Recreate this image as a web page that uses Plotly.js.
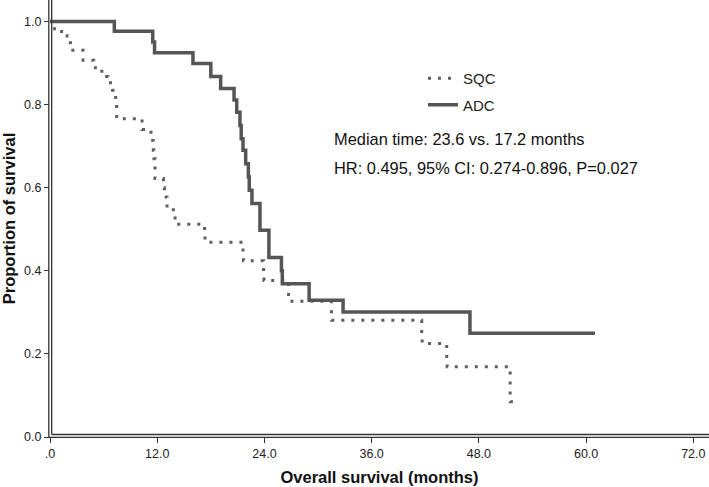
<!DOCTYPE html>
<html>
<head>
<meta charset="utf-8">
<script src="https://cdn.plot.ly/plotly-3.0.1.min.js"></script>
<style>html,body{margin:0;padding:0;background:#fff;}#chart{width:709px;height:487px;}</style>
</head>
<body>
<div id="chart"></div>
<script>
// ---- data ----
const sqcMonths = [0, 0.3, 1.3, 1.9, 2.3, 3.7, 4.9, 5.8, 6.5, 7.0, 7.35, 7.46, 10.3, 11.3, 11.56, 11.64, 11.75, 12.7, 12.8, 13.1, 13.8, 14.0, 17.3, 17.35, 21.6, 21.65, 23.9, 23.95, 26.7, 31.5, 41.6, 41.65, 44.4, 44.45, 51.5, 52.3];
const sqcSurv   = [1.0, 0.983, 0.966, 0.949, 0.931, 0.907, 0.889, 0.868, 0.853, 0.835, 0.800, 0.766, 0.740, 0.714, 0.690, 0.670, 0.622, 0.600, 0.578, 0.556, 0.534, 0.512, 0.490, 0.469, 0.433, 0.424, 0.385, 0.377, 0.327, 0.281, 0.250, 0.225, 0.190, 0.169, 0.085, 0.085];

const adcMonths = [0, 7.2, 11.5, 11.7, 16.0, 18.0, 19.1, 20.6, 20.9, 21.26, 21.4, 21.6, 21.9, 22.2, 22.3, 22.6, 23.5, 24.5, 25.9, 26.0, 29.0, 32.8, 47.0, 61.0];
const adcSurv   = [1.0, 0.977, 0.951, 0.925, 0.899, 0.868, 0.839, 0.811, 0.782, 0.750, 0.718, 0.690, 0.658, 0.626, 0.594, 0.562, 0.498, 0.432, 0.400, 0.369, 0.329, 0.301, 0.250, 0.250];

const seriesNames = ["SQC", "ADC"];
const xTickVals = [0, 12, 24, 36, 48, 60, 72];
const xTickText = [".0", "12.0", "24.0", "36.0", "48.0", "60.0", "72.0"];
const yTickVals = [0, 0.2, 0.4, 0.6, 0.8, 1.0];
const yTickText = ["0.0", "0.2", "0.4", "0.6", "0.8", "1.0"];
const noteLines = ["Median time: 23.6 vs. 17.2 months", "HR: 0.495, 95% CI: 0.274-0.896, P=0.027"];
const xTitle = "Overall survival (months)";
const yTitle = "Proportion of survival";

// ---- chart ----
const FONT = "Liberation Sans, Arial, Helvetica, sans-serif";
const W = 709, H = 487, L = 50, R = 0, T = 0, B = 50;
const plotW = W - L - R, plotH = H - T - B;
const axisCol = "#333333";

const traces = [
  {
    x: sqcMonths, y: sqcSurv, name: seriesNames[0], legendgroup: "g1", type: "scatter", mode: "lines",
    line: {shape: "hv", color: "#5e5e5e", width: 3, dash: "3px,7px"}
  },
  {
    x: adcMonths, y: adcSurv, name: seriesNames[1], legendgroup: "g2", type: "scatter", mode: "lines",
    line: {shape: "hv", color: "#555555", width: 3.5}
  }
];

const px = v => v / plotW, py = v => v / plotH;

const layout = {
  width: W, height: H,
  margin: {l: L, r: R, t: T, b: B, pad: 0},
  paper_bgcolor: "#ffffff", plot_bgcolor: "#ffffff",
  font: {family: FONT, size: 12, color: "#222"},
  showlegend: true,
  legend: {
    x: (423 - L) / plotW, y: (plotH - 62) / plotH, xanchor: "left", yanchor: "top",
    bgcolor: "rgba(0,0,0,0)", font: {family: FONT, size: 15, color: "#222"},
    itemwidth: 30, traceorder: "grouped", tracegroupgap: 4
  },
  xaxis: {
    range: [0, plotW / 8.935], showgrid: false, zeroline: false, showline: false,
    ticks: "outside", ticklen: 5, tickwidth: 1, tickcolor: axisCol,
    tickvals: xTickVals, ticktext: xTickText,
    tickfont: {family: FONT, size: 12.5, color: "#222"},
    title: {text: xTitle, font: {family: FONT, size: 16.5, color: "#111", weight: "bold"}, standoff: 11}
  },
  yaxis: {
    range: [0, plotH / 415.4], showgrid: false, zeroline: false, showline: false,
    ticks: "outside", ticklen: 5, tickwidth: 1, tickcolor: axisCol,
    tickvals: yTickVals, ticktext: yTickText,
    tickfont: {family: FONT, size: 12.5, color: "#222"},
    title: {text: yTitle, font: {family: FONT, size: 16.5, color: "#111", weight: "bold"}, standoff: 5}
  },
  shapes: [
    // double axis lines (decoration)
    {type: "line", xref: "paper", yref: "paper", x0: px(-1.2), x1: px(-1.2), y0: py(-0.5), y1: 1, line: {color: axisCol, width: 1.3}},
    {type: "line", xref: "paper", yref: "paper", x0: px(1.7), x1: px(1.7), y0: py(2.5), y1: 1, line: {color: axisCol, width: 1.3}},
    {type: "line", xref: "paper", yref: "paper", x0: px(-1.2), x1: 1, y0: py(-0.4), y1: py(-0.4), line: {color: axisCol, width: 1.3}},
    {type: "line", xref: "paper", yref: "paper", x0: px(1.7), x1: 1, y0: py(2.5), y1: py(2.5), line: {color: axisCol, width: 1.3}}
  ],
  annotations: [
    {xref: "paper", yref: "paper", x: (332 - L) / plotW, y: (plotH - 139) / plotH, xanchor: "left", yanchor: "middle",
     text: noteLines[0], showarrow: false, font: {family: FONT, size: 16.4, color: "#111"}},
    {xref: "paper", yref: "paper", x: (332 - L) / plotW, y: (plotH - 168) / plotH, xanchor: "left", yanchor: "middle",
     text: noteLines[1], showarrow: false, font: {family: FONT, size: 16.4, color: "#111"}}
  ]
};

Plotly.newPlot("chart", traces, layout, {displayModeBar: false, staticPlot: true});
</script>
</body>
</html>
